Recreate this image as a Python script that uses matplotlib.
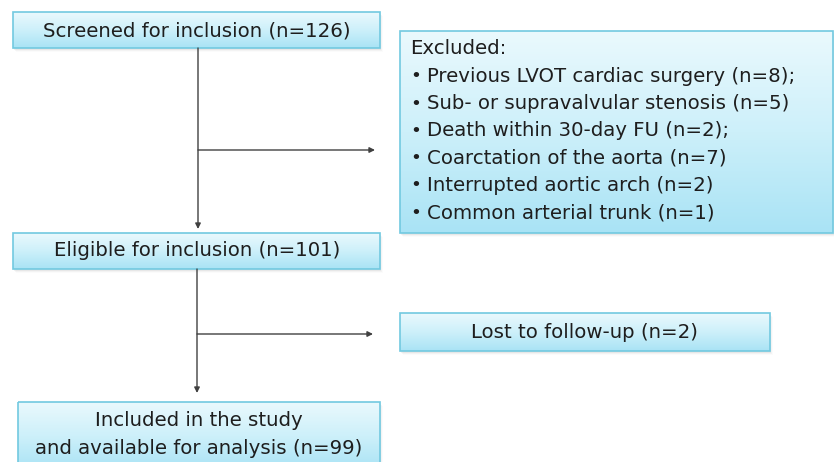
import numpy as np
import matplotlib.pyplot as plt
from matplotlib.patches import Rectangle
from matplotlib.colors import LinearSegmentedColormap

plt.rcParams['font.family'] = ['DejaVu Sans']

# texts of the flow chart
screened = "Screened for inclusion (n=126)"
eligible = "Eligible for inclusion (n=101)"
included = ["Included in the study", "and available for analysis (n=99)"]
lost = "Lost to follow-up (n=2)"
excluded_title = "Excluded:"
excluded_items = [
    "Previous LVOT cardiac surgery (n=8);",
    "Sub- or supravalvular stenosis (n=5)",
    "Death within 30-day FU (n=2);",
    "Coarctation of the aorta (n=7)",
    "Interrupted aortic arch (n=2)",
    "Common arterial trunk (n=1)",
]

W, H = 834, 462
fig = plt.figure(figsize=(W / 100, H / 100), dpi=100)
ax = fig.add_axes([0, 0, 1, 1])
ax.set_xlim(0, W)
ax.set_ylim(H, 0)
ax.axis('off')

cmap = LinearSegmentedColormap.from_list('box', ['#eaf9fd', '#cdf0fa', '#a9e3f5'])
grad = np.linspace(0, 1, 256).reshape(-1, 1)


def box(x0, y0, x1, y1):
    # soft shadow
    for i, a in enumerate([0.10, 0.06, 0.03]):
        ax.add_patch(Rectangle((x0 + 1 + i, y0 + 2 + i), x1 - x0, y1 - y0,
                               facecolor='#808080', edgecolor='none', alpha=a, zorder=1))
    ax.imshow(grad, cmap=cmap, extent=(x0, x1, y1, y0), aspect='auto', zorder=2,
              interpolation='bilinear')
    ax.add_patch(Rectangle((x0, y0), x1 - x0, y1 - y0, facecolor='none',
                           edgecolor='#72c9e0', linewidth=1.2, zorder=3))


def arrow(x0, y0, x1, y1):
    ax.annotate('', xy=(x1, y1), xytext=(x0, y0),
                arrowprops=dict(arrowstyle='-|>', color='#404040', lw=1.0,
                                mutation_scale=8, shrinkA=0, shrinkB=0), zorder=4)


fs = 14.2
tc = '#1e1e1e'

box(13, 12, 380, 48)
ax.text(197, 31, screened, ha='center', va='center', fontsize=fs, color=tc, zorder=5)

box(400, 31, 833, 233)
ax.text(410, 49, excluded_title, ha='left', va='center', fontsize=fs, color=tc, zorder=5)
for i, item in enumerate(excluded_items):
    y = 49 + 27.3 * (i + 1)
    ax.text(410, y, u'\u2022', ha='left', va='center', fontsize=fs - 1, color=tc, zorder=5)
    ax.text(427, y, item, ha='left', va='center', fontsize=fs, color=tc, zorder=5)

box(13, 233, 380, 269)
ax.text(197, 251, eligible, ha='center', va='center', fontsize=fs, color=tc, zorder=5)

box(400, 313, 770, 351)
ax.text(585, 332, lost, ha='center', va='center', fontsize=fs, color=tc, zorder=5)

box(18, 402, 380, 470)
ax.text(199, 421, included[0], ha='center', va='center', fontsize=fs, color=tc, zorder=5)
ax.text(199, 448, included[1], ha='center', va='center', fontsize=fs, color=tc, zorder=5)

# connectors
arrow(198, 48, 198, 229)
arrow(198, 150, 375, 150)
arrow(197, 269, 197, 393)
arrow(197, 334, 373, 334)

fig.savefig('out.png', dpi=100)
